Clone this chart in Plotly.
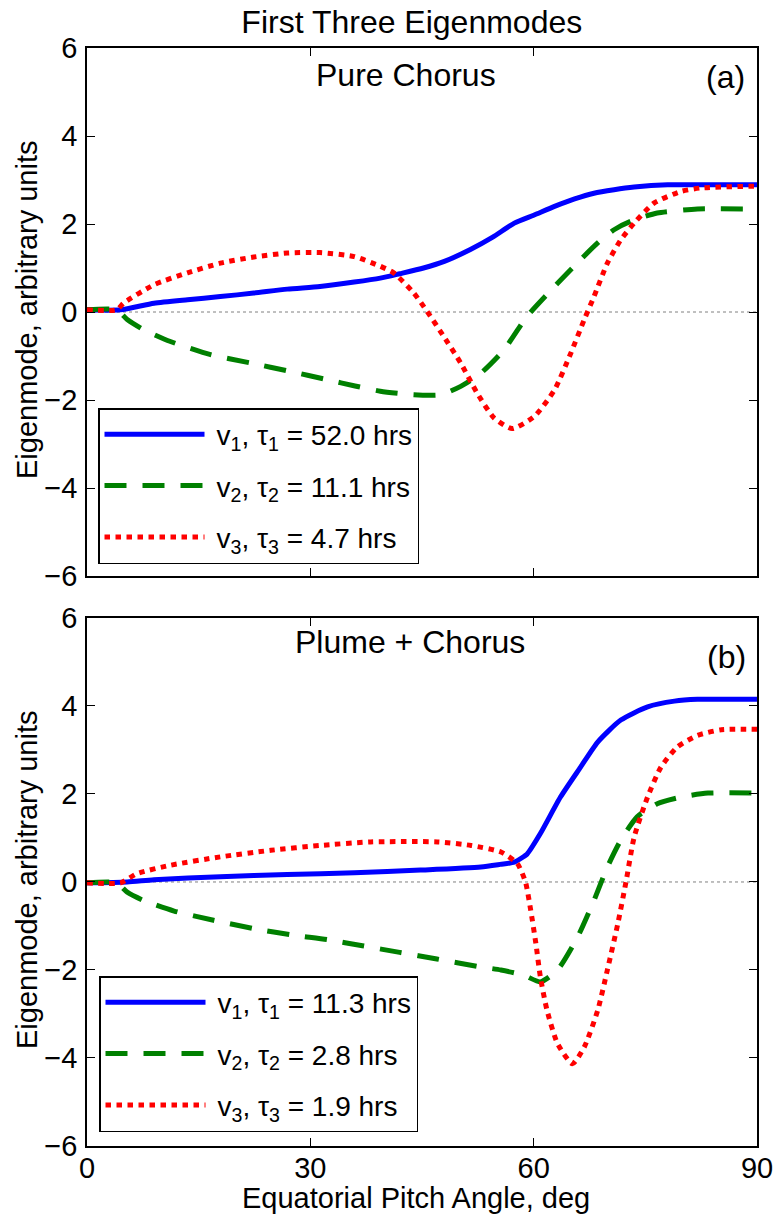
import plotly.graph_objects as go

# ---------------- data ----------------
# Panel (a): Pure Chorus
a_v1_x = [0, 4.5, 9.0, 13.5, 17.9, 22.4, 26.9, 31.3, 35.9, 39.4, 42.0, 45.2, 48.0, 51.5, 54.5, 57.4, 60.0, 62.8, 65.5, 68.1, 70.8, 73.5, 78.0, 90]
a_v1_y = [0.05, 0.05, 0.2, 0.28, 0.35, 0.43, 0.52, 0.58, 0.68, 0.77, 0.87, 1.0, 1.15, 1.42, 1.70, 2.02, 2.2, 2.4, 2.57, 2.70, 2.78, 2.84, 2.89, 2.89]

a_v2_x = [0, 4.0, 5.4, 7.6, 11.2, 16.6, 22.0, 27.3, 32.3, 36.0, 39.4, 43.9, 47.5, 50.2, 52.9, 56.0, 59.1, 62.8, 66.3, 68.6, 70.8, 73.0, 76.6, 82.0, 90]
a_v2_y = [0.05, 0.05, -0.17, -0.40, -0.67, -0.97, -1.16, -1.35, -1.54, -1.68, -1.80, -1.88, -1.88, -1.69, -1.39, -0.86, -0.10, 0.58, 1.19, 1.57, 1.87, 2.06, 2.25, 2.34, 2.34]

a_v3_x = [0, 4.0, 4.9, 9.0, 13.5, 17.9, 22.4, 26.9, 31.3, 35.9, 39.4, 41.2, 43.9, 45.7, 47.9, 50.2, 52.4, 54.7, 57.1, 60.1, 62.8, 65.0, 66.8, 68.1, 69.9, 71.7, 73.5, 76.2, 79.8, 82.5, 90]
a_v3_y = [0.05, 0.05, 0.2, 0.62, 0.89, 1.11, 1.25, 1.34, 1.35, 1.26, 1.04, 0.89, 0.43, 0.01, -0.55, -1.16, -1.84, -2.41, -2.65, -2.37, -1.77, -0.93, -0.17, 0.35, 1.11, 1.64, 2.02, 2.48, 2.74, 2.82, 2.86]

# Panel (b): Plume + Chorus
b_v1_x = [0, 5.4, 9.0, 17.9, 26.9, 35.9, 44.8, 52.9, 55.5, 57.4, 58.7, 59.1, 60.9, 63.6, 66.3, 68.6, 71.7, 75.3, 78.9, 82.0, 90]
b_v1_y = [-0.02, 0.0, 0.05, 0.12, 0.17, 0.21, 0.27, 0.34, 0.40, 0.45, 0.58, 0.63, 1.10, 1.93, 2.61, 3.18, 3.68, 3.98, 4.11, 4.15, 4.15]

b_v2_x = [0, 4.0, 5.4, 7.6, 11.7, 17.0, 22.4, 27.8, 32.3, 37.0, 42.0, 47.0, 52.9, 55.6, 58.7, 60.9, 63.2, 65.9, 68.1, 69.9, 71.7, 73.9, 76.6, 79.8, 83.4, 90]
b_v2_y = [-0.02, -0.02, -0.23, -0.42, -0.66, -0.87, -1.06, -1.21, -1.31, -1.45, -1.60, -1.75, -1.93, -2.00, -2.12, -2.27, -2.00, -1.25, -0.42, 0.34, 0.95, 1.48, 1.78, 1.93, 2.02, 2.02]

b_v3_x = [0, 4.5, 6.7, 11.2, 17.9, 24.7, 31.3, 38.1, 47.1, 51.6, 55.6, 57.8, 58.9, 59.6, 60.3, 60.9, 61.8, 63.2, 65.2, 66.8, 68.6, 69.9, 71.3, 72.4, 73.5, 75.3, 77.1, 79.3, 82.0, 85.2, 90]
b_v3_y = [-0.02, -0.02, 0.19, 0.38, 0.57, 0.72, 0.83, 0.91, 0.91, 0.83, 0.68, 0.42, 0.0, -0.64, -1.40, -2.16, -2.92, -3.67, -4.13, -3.75, -2.92, -2.00, -0.95, 0.0, 1.02, 1.93, 2.61, 3.07, 3.33, 3.46, 3.47]

SP = "\u2005"
a_labels = [SP + "v<sub>1</sub>, τ<sub>1</sub> = 52.0 hrs",
            SP + "v<sub>2</sub>, τ<sub>2</sub> = 11.1 hrs",
            SP + "v<sub>3</sub>, τ<sub>3</sub> = 4.7 hrs"]
b_labels = [SP + "v<sub>1</sub>, τ<sub>1</sub> = 11.3 hrs",
            SP + "v<sub>2</sub>, τ<sub>2</sub> = 2.8 hrs",
            SP + "v<sub>3</sub>, τ<sub>3</sub> = 1.9 hrs"]

x_range = [0, 90]
x_ticks = [0, 30, 60, 90]
y_range = [-6, 6]
y_ticks = [-6, -4, -2, 0, 2, 4, 6]
zero_x = [0, 90]
zero_y = [0, 0]

FONT = "Liberation Sans, Arial, Helvetica, sans-serif"
styles = [
    dict(color="#0000FF", width=5, dash="solid"),
    dict(color="#008000", width=5, dash="22px,16px"),
    dict(color="#FF0000", width=5, dash="5.5px,5.5px"),
]

# plot-area geometry in pixels
L, R, T, B = 87, 757, 48, 1146
W, H = R - L, B - T

fig = go.Figure()

panels = [
    ("x", "y", "legend", [(a_v1_x, a_v1_y), (a_v2_x, a_v2_y), (a_v3_x, a_v3_y)], a_labels, "a"),
    ("x2", "y2", "legend2", [(b_v1_x, b_v1_y), (b_v2_x, b_v2_y), (b_v3_x, b_v3_y)], b_labels, "b"),
]

for xa, ya, leg, series, labels, tag in panels:
    fig.add_trace(go.Scatter(x=zero_x, y=zero_y, xaxis=xa, yaxis=ya, mode="lines",
                             line=dict(color="#808080", width=1, dash="dot"),
                             showlegend=False, hoverinfo="skip"))
    for i, ((xs, ys), lab) in enumerate(zip(series, labels)):
        fig.add_trace(go.Scatter(x=xs, y=ys, xaxis=xa, yaxis=ya, mode="lines",
                                 line=dict(shape="spline", smoothing=0.6, **styles[i]),
                                 name=lab, legend=leg, legendgroup=f"{tag}{i}"))

axis_common = dict(range=x_range, tickvals=x_ticks, ticks="inside", ticklen=8,
                   tickcolor="#000000", showline=True, linecolor="#000000", linewidth=1.5,
                   mirror="ticks", showgrid=False, zeroline=False, automargin=False,
                   ticklabelstandoff=-5,
                   tickfont=dict(size=29, color="#000000", family=FONT))
yaxis_common = dict(range=y_range, tickvals=y_ticks, ticks="inside", ticklen=8,
                    tickcolor="#000000", showline=True, linecolor="#000000", linewidth=1.5,
                    mirror="ticks", showgrid=False, zeroline=False, automargin=False,
                    ticklabelstandoff=2,
                    tickfont=dict(size=29, color="#000000", family=FONT))

legend_common = dict(bgcolor="#FFFFFF", bordercolor="#000000", borderwidth=1.5,
                     font=dict(size=28, color="#000000", family=FONT),
                     itemwidth=100, tracegroupgap=12, traceorder="grouped",
                     xanchor="left", yanchor="top", xref="paper", yref="paper")

fig.update_layout(
    width=777, height=1216,
    margin=dict(l=L, r=777 - R, t=T, b=1216 - B, autoexpand=False),
    paper_bgcolor="#FFFFFF", plot_bgcolor="#FFFFFF",
    font=dict(family=FONT, color="#000000"),
    title=dict(text="First Three Eigenmodes", x=0.53, xanchor="center",
               y=1 - 22 / 1216, yanchor="middle", yref="container",
               font=dict(size=32, color="#000000", family=FONT)),
    xaxis=dict(anchor="y", domain=[0, 1], showticklabels=False, **axis_common),
    yaxis=dict(anchor="x", domain=[0.5191, 1], **yaxis_common),
    xaxis2=dict(anchor="y2", domain=[0, 1], matches="x", **axis_common),
    yaxis2=dict(anchor="x2", domain=[0, 0.4809], **yaxis_common),
    legend=dict(x=(98 - L) / W, y=(B - 408) / H, **legend_common),
    legend2=dict(x=(99 - L) / W, y=(B - 976) / H, **legend_common),
    showlegend=True,
)

annots = [
    ("Pure Chorus", 406, 75, "center", 32, 0),
    ("(a)", 747, 77, "right", 32, 0),
    ("Plume + Chorus", 410, 642, "center", 32, 0),
    ("(b)", 748, 657, "right", 32, 0),
    ("Eigenmode, arbitrary units", 27, 310, "center", 29, -90),
    ("Eigenmode, arbitrary units", 27, 880, "center", 29, -90),
    ("Equatorial Pitch Angle, deg", 416, 1198, "center", 29, 0),
]
for text, px, py, anchor, size, ang in annots:
    fig.add_annotation(text=text, x=(px - L) / W, y=(B - py) / H,
                       xref="paper", yref="paper", xanchor=anchor, yanchor="middle",
                       textangle=ang, showarrow=False,
                       font=dict(size=size, color="#000000", family=FONT))

fig.write_html("out.html")
